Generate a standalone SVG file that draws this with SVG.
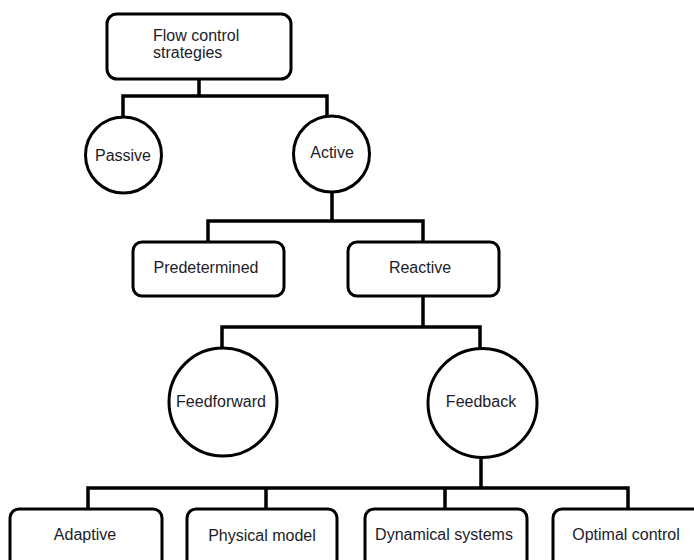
<svg xmlns="http://www.w3.org/2000/svg" width="694" height="560" viewBox="0 0 694 560">
<style>
.n{fill:#fff;stroke:#000;stroke-width:3}
.c{fill:none;stroke:#000;stroke-width:3.5;stroke-linecap:square}
text{font-family:"Liberation Sans",Arial,sans-serif;font-size:16px;fill:#1c1c28}
.m{text-anchor:middle}
</style>
<rect width="694" height="560" fill="#fff"/>
<g id="connectors">
<path class="c" d="M199 79V96M123 96H327M123 96V117M327 96V117"/>
<path class="c" d="M332 192V221M208 221H423M208 221V242M423 221V242"/>
<path class="c" d="M423 296V327M222 327H480M222 327V348M480 327V348"/>
<path class="c" d="M481 458V488M88 488H628M88 488V509M266 488V509M445 488V509M628 488V509"/>
</g>
<g id="root"><rect class="n" x="107" y="14" width="184" height="65" rx="10"/><text x="153" y="41">Flow control</text><text x="153" y="58">strategies</text></g>
<g id="passive"><circle class="n" cx="123.5" cy="155" r="38"/><text class="m" x="123" y="161">Passive</text></g>
<g id="active"><circle class="n" cx="331.5" cy="154" r="38"/><text class="m" x="332" y="158">Active</text></g>
<g id="predetermined"><rect class="n" x="133" y="242" width="151" height="54" rx="9"/><text class="m" x="206" y="273">Predetermined</text></g>
<g id="reactive"><rect class="n" x="348" y="242" width="151" height="54" rx="9"/><text class="m" x="420" y="273">Reactive</text></g>
<g id="feedforward"><circle class="n" cx="223" cy="402" r="54"/><text class="m" x="221" y="407">Feedforward</text></g>
<g id="feedback"><circle class="n" cx="482.5" cy="403" r="54.5"/><text class="m" x="481" y="407">Feedback</text></g>
<g id="adaptive"><rect class="n" x="10" y="509" width="152" height="62" rx="9"/><text class="m" x="85" y="540">Adaptive</text></g>
<g id="physical"><rect class="n" x="187" y="509" width="150" height="62" rx="9"/><text class="m" x="262" y="541">Physical model</text></g>
<g id="dynamical"><rect class="n" x="365" y="509" width="162" height="62" rx="9"/><text class="m" x="444" y="540">Dynamical systems</text></g>
<g id="optimal"><rect class="n" x="553" y="509" width="150" height="62" rx="9"/><text class="m" x="626" y="540">Optimal control</text></g>
</svg>
